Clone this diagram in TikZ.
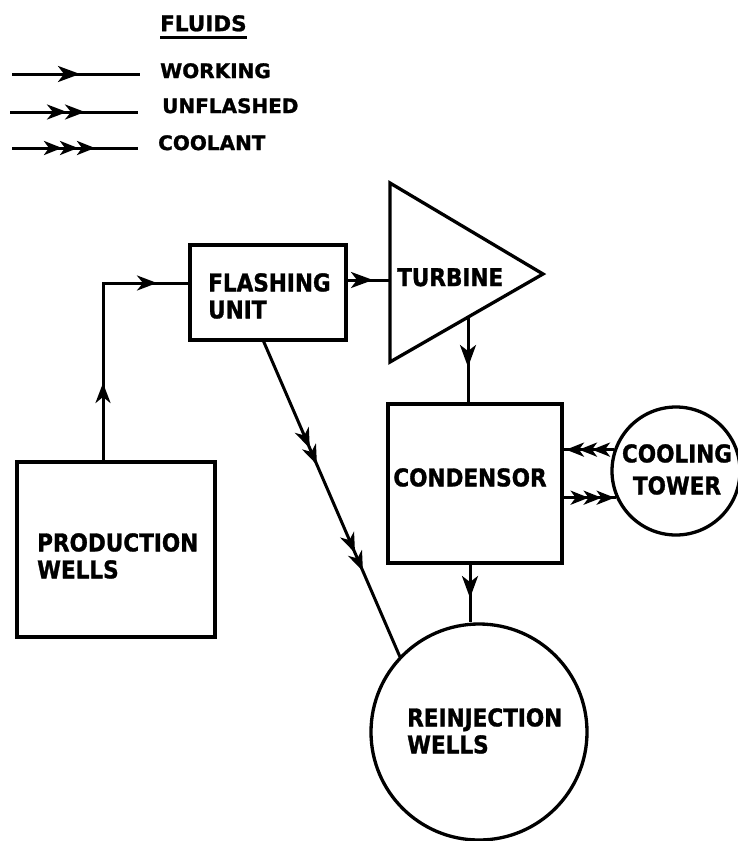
\documentclass[tikz,border=0pt]{standalone}
\usepackage{fontspec}
\setmainfont{DejaVu Sans}
\newfontfamily\lett[FakeStretch=0.88,FakeBold=1.2]{DejaVu Sans Bold}
\newfontfamily\lettw[FakeBold=1.2]{DejaVu Sans Bold}
\usetikzlibrary{arrows.meta,decorations.markings,calc}
\tikzset{
  ln/.style={line width=3pt},
  box/.style={draw,line width=3.3pt,rectangle,inner sep=0pt},
  ring/.style={draw,line width=3.3pt,circle,inner sep=0pt},
  lbl/.style={font=\fontsize{24.5}{27}\lett,inner sep=0pt},
  lgd/.style={font=\fontsize{20}{24}\lettw,inner sep=0pt,anchor=north west},
  one/.style={postaction={decorate},decoration={markings,
      mark=at position #1 with {\arrow{Stealth[length=22pt,width=16pt,inset=6pt]}}}},
  two/.style 2 args={postaction={decorate},decoration={markings,
      mark=at position #1 with {\arrow{Stealth[length=20pt,width=15pt,inset=6pt]}},
      mark=at position #2 with {\arrow{Stealth[length=20pt,width=15pt,inset=6pt]}}}},
  three/.style n args={3}{postaction={decorate},decoration={markings,
      mark=at position #1 with {\arrow{Stealth[length=18pt,width=14pt,inset=5pt]}},
      mark=at position #2 with {\arrow{Stealth[length=18pt,width=14pt,inset=5pt]}},
      mark=at position #3 with {\arrow{Stealth[length=18pt,width=14pt,inset=5pt]}}}},
  four/.style n args={4}{postaction={decorate},decoration={markings,
      mark=at position #1 with {\arrow{Stealth[length=20pt,width=15pt,inset=6pt]}},
      mark=at position #2 with {\arrow{Stealth[length=20pt,width=15pt,inset=6pt]}},
      mark=at position #3 with {\arrow{Stealth[length=20pt,width=15pt,inset=6pt]}},
      mark=at position #4 with {\arrow{Stealth[length=20pt,width=15pt,inset=6pt]}}}},
}
\begin{document}
\begin{tikzpicture}[x=1pt,y=-1pt]
\useasboundingbox (0,0) rectangle (737,841);

% ---------- legend ----------
\node[lgd,font=\fontsize{21.5}{24}\lettw] (lfl) at (160,15) {FLUIDS};
\draw[line width=3.5pt] ([yshift=-6pt]lfl.south west) -- ([yshift=-6pt]lfl.south east);
\node[lgd] (lwk) at (160,63) {WORKING};
\node[lgd] (lun) at (162,98) {UNFLASHED};
\node[lgd] (lco) at (158,135) {COOLANT};
\coordinate (a1) at (12,74);  \coordinate (a2) at (140,74);
\coordinate (b1) at (10,112); \coordinate (b2) at (138,112);
\coordinate (c1) at (12,148); \coordinate (c2) at (138,148);
\draw[ln,one=68pt] (a1) -- (a2);
\draw[ln,two={57pt}{75pt}] (b1) -- (b2);
\draw[ln,three={50pt}{66pt}{83pt}] (c1) -- (c2);

% ---------- blocks ----------
\node[box,minimum width=198pt,minimum height=175pt] (prod) at (116,549.5) {};
\node[lbl,anchor=north west,align=left] (prodt) at (37,533) {PRODUCTION\\WELLS};

\node[box,minimum width=156pt,minimum height=95pt] (flash) at (268,292.5) {};
\node[lbl,anchor=north west,align=left] (flasht) at (208,273) {FLASHING\\UNIT};

\coordinate (t1) at (390,183); \coordinate (t2) at (543,274); \coordinate (t3) at (390,362);
\draw[line width=3.3pt,line join=miter] (t1) -- (t2) -- (t3) -- cycle;
\node[lbl,anchor=north west] (turbt) at (397,268) {TURBINE};

\node[box,minimum width=174pt,minimum height=159pt] (cond) at (475,483.5) {};
\node[lbl,anchor=north] (condt) at (470,468) {CONDENSOR};

\node[ring,minimum size=128pt] (tower) at (676,471) {};
\node[lbl,anchor=north,align=center] (towert) at (677,444) {COOLING\\[5pt]TOWER};

\node[ring,minimum size=216pt] (reinj) at (479,732) {};
\node[lbl,anchor=north west,align=left] (reinjt) at (407,708) {REINJECTION\\WELLS};

% ---------- connectors ----------
\coordinate (pw) at (103,462);
\coordinate (fi) at (190,283);
\draw[ln,two={79pt}{233pt}] (pw) |- (fi);

\coordinate (fo) at (346,280);
\coordinate (ti) at (390,280);
\draw[ln,one=27pt] (fo) -- (ti);

\coordinate (to) at (468,317);
\draw[ln,one=50pt] (to) -- (to |- cond.north);

\coordinate (fb) at (263,340);
\coordinate (rt) at (400,657);
\draw[ln,four={118pt}{136pt}{232pt}{252pt}] (fb) -- (rt);

\coordinate (cb) at (470,563);
\draw[ln,one=35pt] (cb) -- (cb |- reinj.north);

\draw[ln,three={22pt}{35pt}{48pt}] (tower.161) -- (tower.161 -| cond.east);
\draw[ln,three={25pt}{38pt}{51pt}] (cond.east |- tower.204) -- (tower.204);
\end{tikzpicture}
\end{document}
